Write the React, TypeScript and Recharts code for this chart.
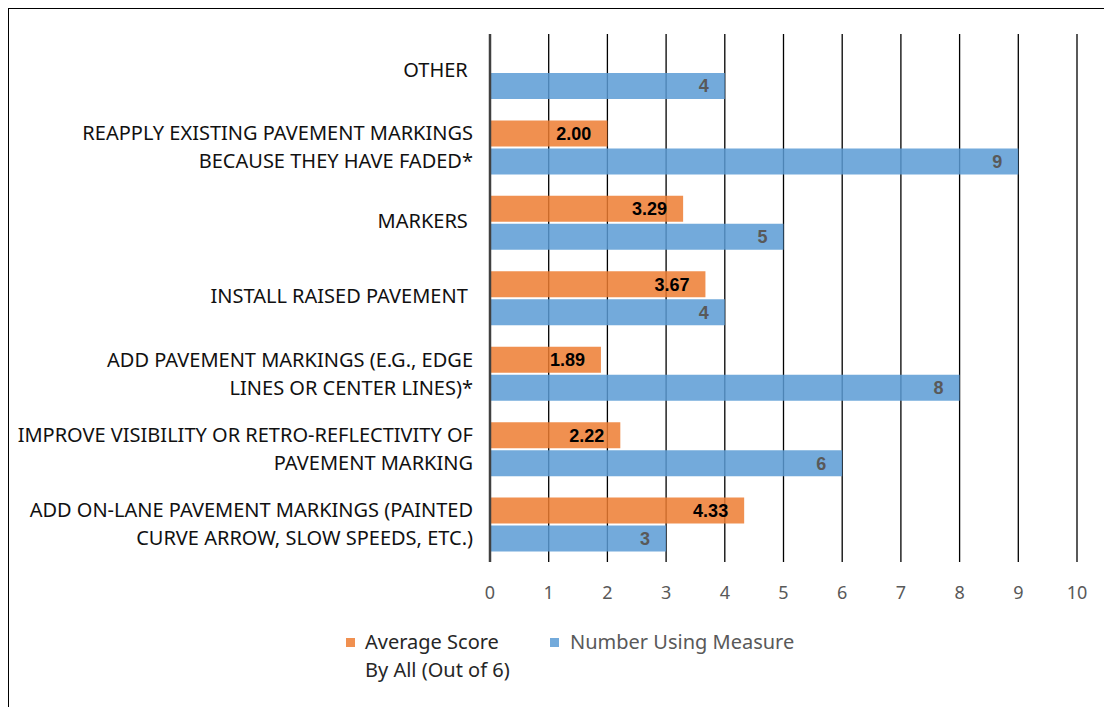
import React from "react";
import { BarChart, Bar, XAxis, YAxis, CartesianGrid, Legend, LabelList } from "recharts";

const categories: string[] = [
  "OTHER ",
  "REAPPLY EXISTING PAVEMENT MARKINGS\nBECAUSE THEY HAVE FADED*",
  "MARKERS ",
  "INSTALL RAISED PAVEMENT ",
  "ADD PAVEMENT MARKINGS (E.G., EDGE\nLINES OR CENTER LINES)*",
  "IMPROVE VISIBILITY OR RETRO-REFLECTIVITY OF\nPAVEMENT MARKING",
  "ADD ON-LANE PAVEMENT MARKINGS (PAINTED\nCURVE ARROW, SLOW SPEEDS, ETC.)",
];
const averageScore: (number | null)[] = [null, 2.0, 3.29, 3.67, 1.89, 2.22, 4.33];
const numberUsing: number[] = [4, 9, 5, 4, 8, 6, 3];
const xTicks: number[] = [0, 1, 2, 3, 4, 5, 6, 7, 8, 9, 10];
const seriesNames = ["Average Score\nBy All (Out of 6)", "Number Using Measure"];

const data = categories.map((c, i) => ({
  category: c,
  avg: averageScore[i],
  num: numberUsing[i],
}));

const ORANGE = "#ED7D31";
const BLUE = "#5B9BD5";
const FONT = "'Noto Sans', sans-serif";

const CategoryTick = (props: any) => {
  const { x, y, payload } = props;
  const lines = String(payload.value).split("\n");
  const n = lines.length;
  const step = 28;
  const first = y - ((n - 1) * step) / 2 - (n === 1 ? 2 : 0);
  return (
    <text
      x={x}
      y={first}
      textAnchor="end"
      fontFamily={FONT}
      fontSize={20}
      fill="#111"
      style={{ whiteSpace: "pre" }}
    >
      {lines.map((l, i) => (
        <tspan key={i} x={x} y={first + i * step} dy="0.36em">
          {l}
        </tspan>
      ))}
    </text>
  );
};

const makeLabel = (color: string, fmt: (v: number) => string) => (props: any) => {
  const { x, y, width, height, value } = props;
  if (value === null || value === undefined) return null;
  return (
    <text
      x={x + width - 16}
      y={y + height / 2}
      dy="0.36em"
      textAnchor="end"
      fontFamily="'Liberation Sans', Arial, sans-serif"
      fontWeight="bold"
      fontSize={18}
      fill={color}
    >
      {fmt(Number(value))}
    </text>
  );
};

const LegendContent = () => {
  const n1 = seriesNames[0].split("\n");
  const n2 = seriesNames[1];
  return (
    <div style={{ position: "relative", height: 50, width: 1103, fontFamily: FONT, fontSize: 20 }}>
      <div style={{ position: "absolute", left: 337, top: 4, width: 9, height: 9, background: ORANGE, opacity: 0.85 }} />
      <div style={{ position: "absolute", left: 356, top: -3, lineHeight: "21px", color: "#262626", whiteSpace: "nowrap" }}>
        {n1[0]}
      </div>
      <div style={{ position: "absolute", left: 356, top: 25, lineHeight: "21px", color: "#262626", whiteSpace: "nowrap" }}>
        {n1[1]}
      </div>
      <div style={{ position: "absolute", left: 541, top: 4, width: 9, height: 9, background: BLUE, opacity: 0.85 }} />
      <div style={{ position: "absolute", left: 561, top: -3, lineHeight: "21px", color: "#595959", whiteSpace: "nowrap" }}>
        {n2}
      </div>
    </div>
  );
};

export default function App() {
  return (
    <div
      style={{
        position: "relative",
        width: 1105,
        height: 700,
        margin: "-1px 0 0 -1px",
        borderTop: "2px solid #000",
        borderLeft: "2px solid #000",
        boxSizing: "border-box",
        background: "#fff",
      }}
    >
      <BarChart
        width={1103}
        height={698}
        data={data}
        layout="vertical"
        margin={{ top: 25, right: 35, bottom: 65, left: 11 }}
        barSize={26}
        barGap={2}
      >
        <CartesianGrid horizontal={false} vertical={true} stroke="#000" strokeWidth={1.3} />
        <XAxis
          type="number"
          domain={[0, 10]}
          ticks={xTicks}
          interval={0}
          axisLine={false}
          tickLine={false}
          tickSize={0}
          tickMargin={24}
          height={30}
          tick={{ fill: "#595959", fontFamily: FONT, fontSize: 18 }}
        />
        <YAxis
          type="category"
          dataKey="category"
          width={470}
          interval={0}
          tickLine={false}
          tickSize={0}
          tickMargin={17}
          axisLine={{ stroke: "#404040", strokeWidth: 2.5 }}
          tick={<CategoryTick />}
        />
        <Legend
          verticalAlign="bottom"
          content={<LegendContent />}
          wrapperStyle={{ top: 625, left: 0, width: 1103, height: 50 }}
        />
        <Bar dataKey="avg" name={seriesNames[0]} fill={ORANGE} fillOpacity={0.85} isAnimationActive={false}>
          <LabelList dataKey="avg" content={makeLabel("#000", (v) => v.toFixed(2))} />
        </Bar>
        <Bar dataKey="num" name={seriesNames[1]} fill={BLUE} fillOpacity={0.85} isAnimationActive={false}>
          <LabelList dataKey="num" content={makeLabel("#595959", (v) => String(v))} />
        </Bar>
      </BarChart>
    </div>
  );
}
